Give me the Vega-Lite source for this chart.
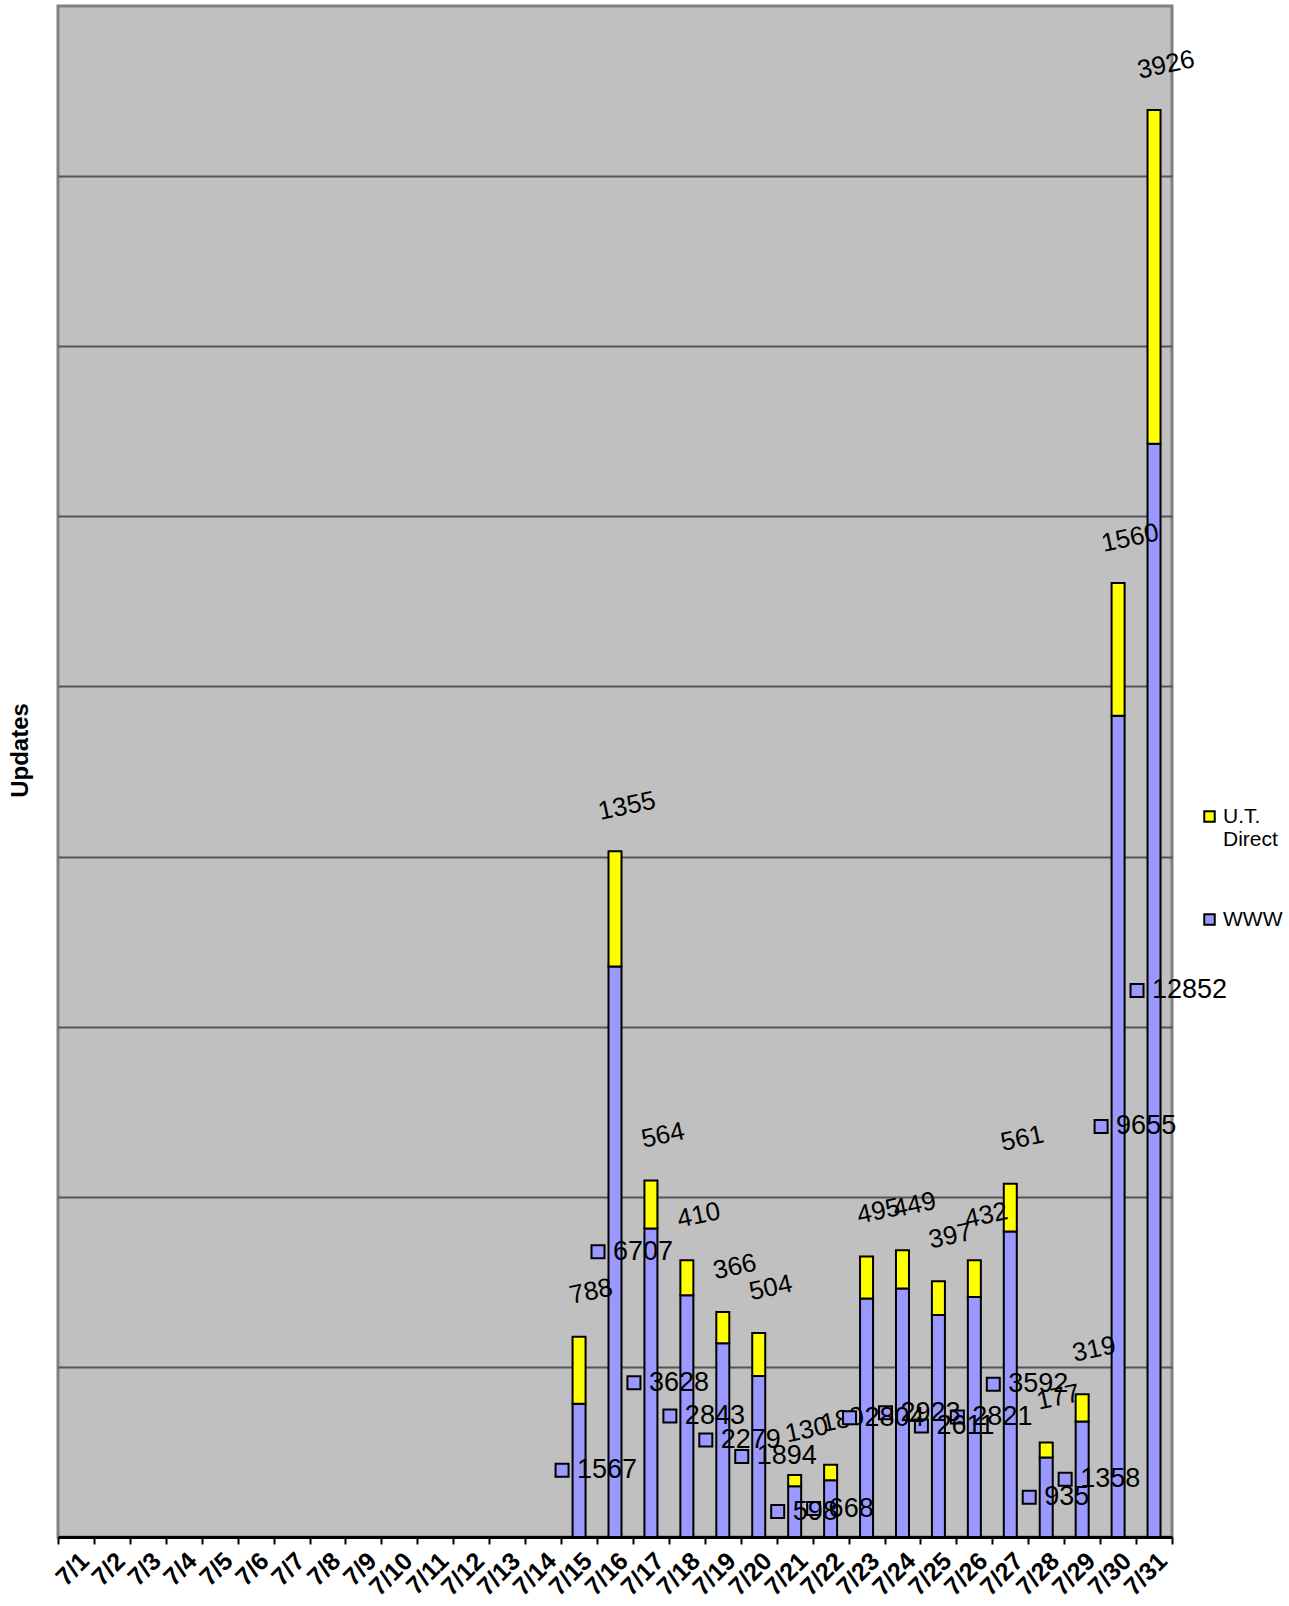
{
  "$schema": "https://vega.github.io/schema/vega-lite/v6.json",
  "autosize": "none",
  "padding": {"left": 58, "top": 6, "right": 117, "bottom": 69},
  "width": 1114,
  "height": 1531,
  "background": "white",
  "config": {
    "view": {"fill": "#C0C0C0", "stroke": "#808080", "strokeWidth": 3},
    "font": "Liberation Sans"
  },
  "data": {
    "values": [
      {"date": "7/15", "series": "WWW", "value": 1567}, {"date": "7/15", "series": "U.T. Direct", "value": 788},
      {"date": "7/16", "series": "WWW", "value": 6707}, {"date": "7/16", "series": "U.T. Direct", "value": 1355},
      {"date": "7/17", "series": "WWW", "value": 3628}, {"date": "7/17", "series": "U.T. Direct", "value": 564},
      {"date": "7/18", "series": "WWW", "value": 2843}, {"date": "7/18", "series": "U.T. Direct", "value": 410},
      {"date": "7/19", "series": "WWW", "value": 2279}, {"date": "7/19", "series": "U.T. Direct", "value": 366},
      {"date": "7/20", "series": "WWW", "value": 1894}, {"date": "7/20", "series": "U.T. Direct", "value": 504},
      {"date": "7/21", "series": "WWW", "value": 598}, {"date": "7/21", "series": "U.T. Direct", "value": 130},
      {"date": "7/22", "series": "WWW", "value": 668}, {"date": "7/22", "series": "U.T. Direct", "value": 180},
      {"date": "7/23", "series": "WWW", "value": 2804}, {"date": "7/23", "series": "U.T. Direct", "value": 495},
      {"date": "7/24", "series": "WWW", "value": 2923}, {"date": "7/24", "series": "U.T. Direct", "value": 449},
      {"date": "7/25", "series": "WWW", "value": 2611}, {"date": "7/25", "series": "U.T. Direct", "value": 397},
      {"date": "7/26", "series": "WWW", "value": 2821}, {"date": "7/26", "series": "U.T. Direct", "value": 432},
      {"date": "7/27", "series": "WWW", "value": 3592}, {"date": "7/27", "series": "U.T. Direct", "value": 561},
      {"date": "7/28", "series": "WWW", "value": 935}, {"date": "7/28", "series": "U.T. Direct", "value": 177},
      {"date": "7/29", "series": "WWW", "value": 1358}, {"date": "7/29", "series": "U.T. Direct", "value": 319},
      {"date": "7/30", "series": "WWW", "value": 9655}, {"date": "7/30", "series": "U.T. Direct", "value": 1560},
      {"date": "7/31", "series": "WWW", "value": 12852}, {"date": "7/31", "series": "U.T. Direct", "value": 3926}
    ]
  },
  "encoding": {
    "x": {
      "field": "date",
      "type": "nominal",
      "scale": {
        "domain": ["7/1","7/2","7/3","7/4","7/5","7/6","7/7","7/8","7/9","7/10","7/11","7/12","7/13","7/14","7/15","7/16","7/17","7/18","7/19","7/20","7/21","7/22","7/23","7/24","7/25","7/26","7/27","7/28","7/29","7/30","7/31"],
        "paddingInner": 0,
        "paddingOuter": 0
      },
      "axis": {
        "title": null,
        "labelAngle": -45,
        "labelFont": "Liberation Sans",
        "labelFontWeight": "bold",
        "labelFontSize": 25,
        "labelColor": "black",
        "labelPadding": 4,
        "tickBand": "extent",
        "tickColor": "black",
        "tickWidth": 2,
        "tickSize": 7,
        "domainColor": "black",
        "domainWidth": 3,
        "grid": false
      }
    }
  },
  "layer": [
    {
      "mark": {"type": "bar", "width": 13, "stroke": "black", "strokeWidth": 2},
      "encoding": {
        "y": {
          "field": "value",
          "type": "quantitative",
          "stack": "zero",
          "scale": {"domain": [0, 18000], "nice": false},
          "axis": {
            "title": "Updates",
            "titleFont": "Liberation Sans",
            "titleFontSize": 24,
            "titleFontWeight": "bold",
            "titleColor": "black",
            "titlePadding": 26,
            "titleY": 744,
            "labels": false,
            "ticks": false,
            "domain": false,
            "grid": true,
            "gridColor": "#555555",
            "gridWidth": 2,
            "values": [2000, 4000, 6000, 8000, 10000, 12000, 14000, 16000]
          }
        },
        "color": {
          "field": "series",
          "type": "nominal",
          "scale": {"domain": ["U.T. Direct", "WWW"], "range": ["#FFFF00", "#9999FF"]},
          "legend": {
            "title": null,
            "orient": "none",
            "legendX": 1141,
            "legendY": 800,
            "padding": 0,
            "symbolType": "square",
            "symbolSize": 110,
            "symbolStrokeColor": "black",
            "symbolStrokeWidth": 2,
            "symbolOpacity": 1,
            "labelFont": "Liberation Sans",
            "labelFontSize": 21,
            "labelColor": "black",
            "labelOffset": 3,
            "labelBaseline": "middle",
            "rowPadding": 58,
            "labelExpr": "datum.label == 'U.T. Direct' ? ['U.T.', 'Direct'] : datum.label"
          }
        },
        "order": {"field": "series", "sort": "descending"}
      }
    },
    {
      "transform": [
        {"stack": "value", "groupby": ["date"], "sort": [{"field": "series", "order": "descending"}], "as": ["y0", "y1"]},
        {"filter": "datum.series == 'U.T. Direct'"}
      ],
      "mark": {"type": "text", "angle": -12, "fontSize": 26, "font": "Liberation Sans", "color": "black", "align": "center", "baseline": "middle", "xOffset": 12, "yOffset": -45},
      "encoding": {
        "y": {"field": "y1", "type": "quantitative", "scale": {"domain": [0, 18000], "nice": false}, "axis": null},
        "text": {"field": "value", "type": "quantitative", "format": "d"}
      }
    },
    {
      "transform": [{"filter": "datum.series == 'WWW'"}],
      "mark": {"type": "point", "shape": "square", "size": 169, "filled": true, "fill": "#9999FF", "stroke": "black", "strokeWidth": 2, "opacity": 1, "xOffset": -17},
      "encoding": {
        "y": {"field": "value", "type": "quantitative", "scale": {"domain": [0, 36000], "nice": false}, "axis": null}
      }
    },
    {
      "transform": [{"filter": "datum.series == 'WWW'"}],
      "mark": {"type": "text", "fontSize": 27, "font": "Liberation Sans", "color": "black", "align": "left", "baseline": "middle", "xOffset": -2},
      "encoding": {
        "y": {"field": "value", "type": "quantitative", "scale": {"domain": [0, 36000], "nice": false}, "axis": null},
        "text": {"field": "value", "type": "quantitative", "format": "d"}
      }
    }
  ],
  "resolve": {"scale": {"y": "independent"}}
}
